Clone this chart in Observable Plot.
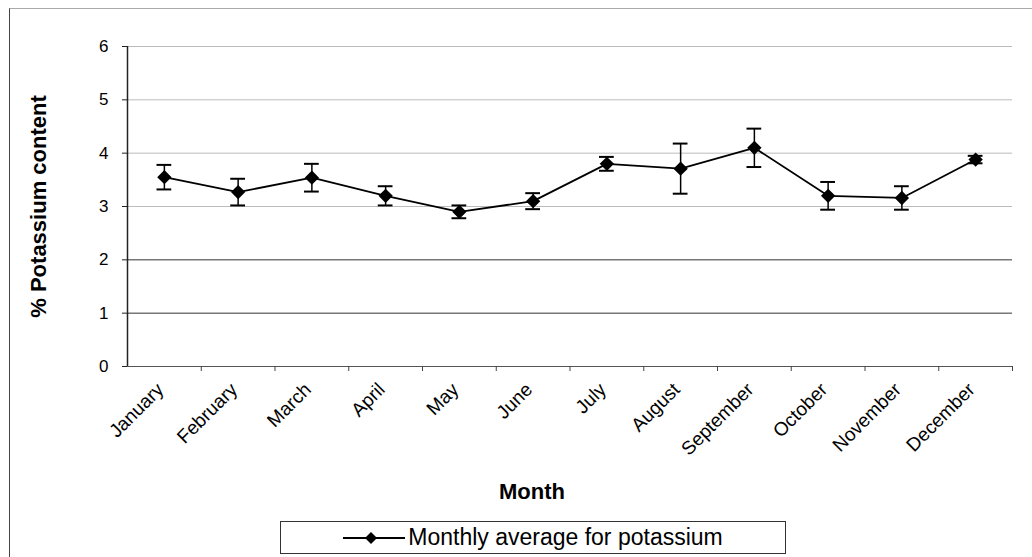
<!DOCTYPE html>
<html><head><meta charset="utf-8">
<script src="https://cdn.jsdelivr.net/npm/d3@7"></script>
<script src="https://cdn.jsdelivr.net/npm/@observablehq/plot@0.6"></script>
<style>
body{margin:0;background:#fff;font-family:"Liberation Sans",Arial,sans-serif;}
#wrap{position:relative;width:1032px;height:557px;overflow:hidden;background:#fff;}
#frame{position:absolute;left:9px;top:8px;width:1100px;height:600px;border-left:1px solid #444;border-top:1px solid #aaa;pointer-events:none;}
#chart{position:absolute;left:0;top:0;}
#legend{position:absolute;left:280px;top:521px;width:506px;height:33px;border:1px solid #333;display:flex;align-items:center;justify-content:center;font-size:23px;color:#000;box-sizing:border-box;}
#legend svg{margin-right:3px;}
</style></head><body>
<div id="wrap"><div id="frame"></div><div id="chart"></div><div id="legend"></div></div>
<script>
const months = ["January","February","March","April","May","June","July","August","September","October","November","December"];
const means  = [3.55, 3.27, 3.54, 3.20, 2.90, 3.10, 3.80, 3.71, 4.10, 3.20, 3.16, 3.88];
const errors = [0.23, 0.25, 0.26, 0.18, 0.12, 0.15, 0.13, 0.47, 0.36, 0.26, 0.22, 0.07];
const yTicks = [0, 1, 2, 3, 4, 5, 6];
const yTitle = "% Potassium content";
const xTitle = "Month";
const seriesName = "Monthly average for potassium";

const data = months.map((m, i) => ({i, month: m, mean: means[i], lo: means[i] - errors[i], hi: means[i] + errors[i]}));
const boundaries = d3.range(1, months.length + 1).map(i => i - 0.5);
const capHalf = 0.1;
const font = "Liberation Sans, Arial, sans-serif";

const chart = Plot.plot({
  width: 1032, height: 515,
  marginLeft: 127, marginRight: 20, marginTop: 46, marginBottom: 149,
  style: {fontFamily: font, background: "transparent", color: "#000", overflow: "visible"},
  x: {type: "linear", domain: [-0.5, months.length - 0.5], axis: null},
  y: {domain: [0, 6], axis: null},
  marks: [
    Plot.ruleY(yTicks.filter(t => t > 0), {stroke: d => d <= 2 ? "#333" : "#bbb", strokeWidth: 1}),
    Plot.ruleY([0], {stroke: "#555", strokeWidth: 1}),
    Plot.ruleX([-0.5], {stroke: "#222", strokeWidth: 1.5}),
    Plot.axisY({ticks: yTicks, tickFormat: d => String(d), tickSize: 5, tickPadding: 14, fontSize: 17, label: null, stroke: "#222"}),
    Plot.axisX({ticks: boundaries, tickSize: 5, tickFormat: () => "", label: null, stroke: "#444"}),
    Plot.axisX({ticks: d3.range(months.length), tickFormat: i => months[i], tickSize: 0, tickPadding: 20, tickRotate: -45, fontSize: 19, dx: -4, label: null}),
    Plot.text([yTitle], {frameAnchor: "left", textAnchor: "middle", rotate: -90, dx: -89, fontSize: 22, fontWeight: "bold", fill: "#000"}),
    Plot.text([xTitle], {frameAnchor: "bottom", textAnchor: "middle", dx: -38, dy: 132, fontSize: 22, fontWeight: "bold", fill: "#000"}),
    Plot.ruleX(data, {x: "i", y1: "lo", y2: "hi", stroke: "#000", strokeWidth: 1.5}),
    Plot.ruleY(data, {y: "hi", x1: d => d.i - capHalf, x2: d => d.i + capHalf, stroke: "#000", strokeWidth: 2}),
    Plot.ruleY(data, {y: "lo", x1: d => d.i - capHalf, x2: d => d.i + capHalf, stroke: "#000", strokeWidth: 2}),
    Plot.line(data, {x: "i", y: "mean", stroke: "#000", strokeWidth: 1.8}),
    Plot.dot(data, {x: "i", y: "mean", symbol: "diamond2", r: 5.5, fill: "#000", stroke: "#000"})
  ]
});
document.getElementById("chart").appendChild(chart);

const legend = document.getElementById("legend");
legend.innerHTML = `<svg width="62" height="16" viewBox="0 0 62 16"><line x1="0" y1="8" x2="62" y2="8" stroke="#000" stroke-width="1.8"/><path d="M28,2 L34,8 L28,14 L22,8 Z" fill="#000"/></svg><span>${seriesName}</span>`;
</script>
</body></html>
